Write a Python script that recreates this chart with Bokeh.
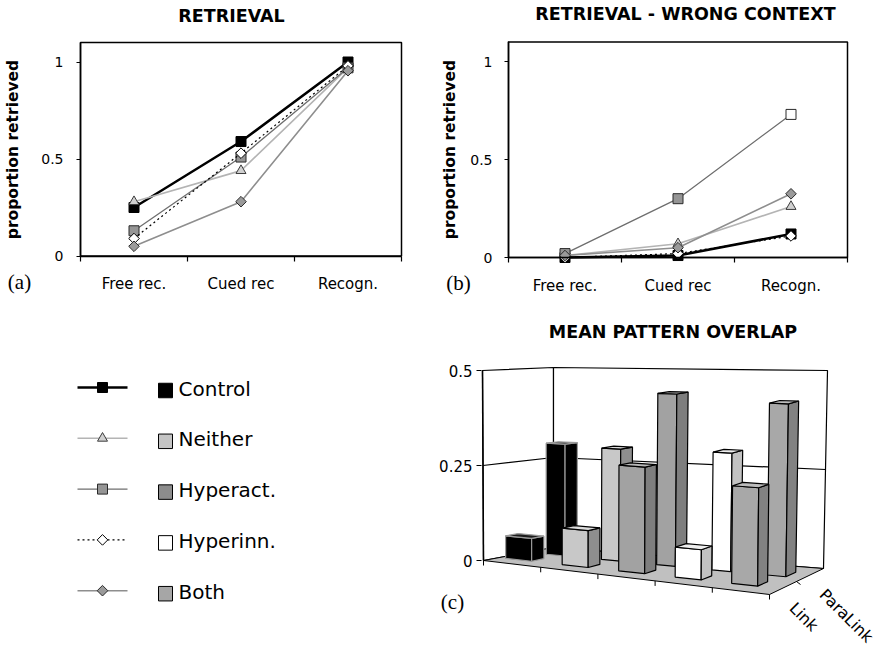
import math
from bokeh.plotting import figure
from bokeh.models import Range1d, FixedTicker, CustomJSTickFormatter, ColumnDataSource
from bokeh.layouts import row, column
from bokeh.embed import file_html
from bokeh.resources import INLINE
from bokeh.core.properties import value

# ---------------- data ----------------
categories = ["Free rec.", "Cued rec", "Recogn."]
series_names = ["Control", "Neither", "Hyperact.", "Hyperinn.", "Both"]

retrieval_control = [0.25, 0.59, 1.00]
retrieval_neither = [0.28, 0.44, 0.97]
retrieval_hyperact = [0.13, 0.51, 0.97]
retrieval_hyperinn = [0.09, 0.53, 0.98]
retrieval_both = [0.05, 0.28, 0.955]

wrong_control = [0.00, 0.01, 0.12]
wrong_neither = [0.01, 0.07, 0.26]
wrong_hyperact = [0.02, 0.30, 0.73]
wrong_hyperinn = [0.00, 0.02, 0.11]
wrong_both = [0.01, 0.05, 0.325]

overlap_depth_labels = ["Link", "ParaLink"]
overlap_link = [0.06, 0.095, 0.27, 0.075, 0.24]
overlap_paralink = [0.30, 0.295, 0.445, 0.30, 0.43]

line_y_ticks = [0, 0.5, 1]
line_y_max = 1.1
overlap_y_ticks = [0, 0.25, 0.5]

# ---------------- styles ----------------
SANS = "DejaVu Sans"
SERIF = "Liberation Serif"

STYLES = {
    "Control":   dict(color="#000000", width=2.5, dash="solid", marker="square",   size=10,  angle=0.0,       fill="#000000", edge="#000000", swatch="#000000"),
    "Neither":   dict(color="#b4b4b4", width=1.6, dash="solid", marker="triangle", size=10,  angle=0.0,       fill="#d0d0d0", edge="#3c3c3c", swatch="#c4c4c4"),
    "Hyperact.": dict(color="#6e6e6e", width=1.3, dash="solid", marker="square",   size=10,  angle=0.0,       fill="#959595", edge="#2a2a2a", swatch="#8c8c8c"),
    "Hyperinn.": dict(color="#000000", width=1.2, dash="2 3",   marker="square",   size=7.5, angle=math.pi/4, fill="#ffffff", edge="#000000", swatch="#ffffff"),
    "Both":      dict(color="#8e8e8e", width=1.6, dash="solid", marker="square",   size=7.5, angle=math.pi/4, fill="#9a9a9a", edge="#2a2a2a", swatch="#a6a6a6"),
}
# front, side, top, edge
BAR_COLORS = {
    "Control":   ("#000000", "#000000", "#1c1c1c", "#9a9a9a"),
    "Neither":   ("#c8c8c8", "#8e8e8e", "#dcdcdc", "#000000"),
    "Hyperact.": ("#a2a2a2", "#7e7e7e", "#b8b8b8", "#000000"),
    "Hyperinn.": ("#ffffff", "#c2c2c2", "#eeeeee", "#000000"),
    "Both":      ("#a8a8a8", "#828282", "#bcbcbc", "#000000"),
}
TITLE_SIZE = "17.5px"


def bare_figure(width, height, x_range, y_range, **kw):
    p = figure(width=width, height=height, x_range=x_range, y_range=y_range,
               output_backend="svg", toolbar_location=None,
               min_border=0, min_border_left=0, min_border_right=0,
               min_border_top=0, min_border_bottom=0, **kw)
    p.title.visible = False
    p.outline_line_color = None
    p.grid.visible = False
    return p


def line_panel(title, values, canvas_left, width, x0_px, x_scale, y0_px, y_scale,
               title_px, ylab_standoff, ytick_standoff, tag, tag_px, point_fills):
    height = 300
    # frame == whole canvas; data units: categories on x, proportion on y
    xr = Range1d(-x0_px / x_scale, (width - x0_px) / x_scale)
    yr = Range1d(-(height - y0_px) / y_scale, y0_px / y_scale)
    p = bare_figure(width, height, xr, yr)

    def to_data(px, py):
        return (px - canvas_left - x0_px) / x_scale, (y0_px - py) / y_scale

    ncat = len(categories)
    # plot-area box
    p.quad(left=[0], right=[ncat], bottom=[0], top=[line_y_max], fill_color=None,
           line_color="#000000", line_width=1.5)

    xa = p.xaxis[0]
    xa.fixed_location = 0
    xa.bounds = (0, ncat)
    xa.ticker = FixedTicker(ticks=[i + 0.5 for i in range(ncat)], minor_ticks=list(range(ncat + 1)))
    xa.formatter = CustomJSTickFormatter(args=dict(labels=categories),
                                         code="return labels[Math.round(tick - 0.5)];")
    xa.major_tick_out = 0
    xa.major_tick_in = 0
    xa.minor_tick_out = 5
    xa.minor_tick_in = 0
    xa.axis_line_width = 1.5
    xa.minor_tick_line_width = 1.2
    xa.major_label_text_font = SANS
    xa.major_label_text_font_size = "15px"
    xa.major_label_text_color = "#000000"
    xa.major_label_standoff = 14

    ya = p.yaxis[0]
    ya.fixed_location = 0
    ya.bounds = (0, line_y_max)
    ya.ticker = FixedTicker(ticks=line_y_ticks, minor_ticks=[])
    ya.formatter = CustomJSTickFormatter(code="return tick.toString();")
    ya.major_tick_out = 4
    ya.major_tick_in = 0
    ya.axis_line_width = 1.5
    ya.major_label_text_font = SANS
    ya.major_label_text_font_size = "14px"
    ya.major_label_text_color = "#000000"
    ya.major_label_standoff = ytick_standoff
    ya.axis_label = "proportion retrieved"
    ya.axis_label_text_font = SANS
    ya.axis_label_text_font_style = "bold"
    ya.axis_label_text_font_size = "15.5px"
    ya.axis_label_text_color = "#000000"
    ya.axis_label_standoff = ylab_standoff

    xs = [i + 0.5 for i in range(ncat)]
    for name, vals in zip(series_names, values):
        st = STYLES[name]
        fills = point_fills.get(name, [st["fill"]] * len(vals))
        p.line(xs, vals, line_color=st["color"], line_width=st["width"], line_dash=st["dash"])
        src = ColumnDataSource(dict(x=xs, y=vals, f=fills))
        p.scatter("x", "y", source=src, marker=st["marker"], size=st["size"], angle=st["angle"],
                  fill_color="f", line_color=st["edge"], line_width=1)

    tx, ty = to_data(*title_px)
    p.text([tx], [ty], text=[title], text_font=value(SANS), text_font_size=TITLE_SIZE,
           text_font_style="bold", text_align="center", text_baseline="middle", text_color="#000000")
    gx, gy = to_data(*tag_px)
    p.text([gx], [gy], text=[tag], text_font=value(SERIF), text_font_size="21px",
           text_align="center", text_baseline="middle", text_color="#000000")
    return p


pa = line_panel("RETRIEVAL",
                [retrieval_control, retrieval_neither, retrieval_hyperact, retrieval_hyperinn, retrieval_both],
                0, 440, 80, 107, 255.5, 194, (231, 15), 16, 13, "(a)", (19, 281), {})
pb = line_panel("RETRIEVAL - WRONG CONTEXT",
                [wrong_control, wrong_neither, wrong_hyperact, wrong_hyperinn, wrong_both],
                440, 441, 68, 113, 257, 196, (685, 13), 8, 12, "(b)", (458, 282),
                {"Hyperact.": [STYLES["Hyperact."]["fill"], STYLES["Hyperact."]["fill"], "#ffffff"]})

# ---------------- legend panel (canvas pixels as data units) ----------------
pl = bare_figure(428, 348, Range1d(0, 428), Range1d(648, 300),
                 x_axis_location=None, y_axis_location=None)
ROW0, ROWSTEP = 387, 50.8
for i, name in enumerate(series_names):
    st = STYLES[name]
    yy = ROW0 + i * ROWSTEP
    pl.line([77, 127], [yy, yy], line_color=st["color"], line_width=st["width"], line_dash=st["dash"])
    pl.scatter([102], [yy], marker=st["marker"], size=st["size"], angle=st["angle"],
               fill_color=st["fill"], line_color=st["edge"], line_width=1)
    pl.rect([165], [yy + 3], width=14, height=14.5, fill_color=st["swatch"], line_color="#000000", line_width=1)
    pl.text([178], [yy + 1], text=[name], text_font=value(SANS), text_font_size="20px",
            text_baseline="middle", text_align="left", text_color="#000000")

# ---------------- 3-D bar panel ----------------
# screen-pixel corners of the plotting cube (u: category, w: depth, t: height fraction)
CORNERS = {
    (0, 0, 0): (483, 560), (0, 0, 1): (482, 370),
    (0, 1, 0): (553, 547), (0, 1, 1): (553, 367),
    (1, 0, 0): (769, 594), (1, 0, 1): (771, 385),
    (1, 1, 0): (823, 568), (1, 1, 1): (827, 370),
}
ZMAX = 0.5
Y0_PX, PX_PER_UNIT = 560, 380.0
PC_LEFT, PC_TOP = 428, 300


def py_to_y(py):
    return (Y0_PX - py) / PX_PER_UNIT


def proj(u, w, z):
    t = z / ZMAX
    sx = sy = 0.0
    for (i, j, k), (cx, cy) in CORNERS.items():
        wt = (u if i else 1 - u) * (w if j else 1 - w) * (t if k else 1 - t)
        sx += wt * cx
        sy += wt * cy
    return sx, py_to_y(sy)


def poly(pts):
    xy = [proj(*p) for p in pts]
    return [a for a, _ in xy], [b for _, b in xy]


pc = bare_figure(453, 348, Range1d(PC_LEFT, 881), Range1d(py_to_y(648), py_to_y(PC_TOP)),
                 x_axis_location=None)
ya = pc.yaxis[0]
ya.fixed_location = 481
ya.bounds = (0, ZMAX)
ya.ticker = FixedTicker(ticks=overlap_y_ticks, minor_ticks=[])
ya.formatter = CustomJSTickFormatter(code="return tick.toString();")
ya.axis_line_color = None
ya.major_tick_out = 5
ya.major_tick_in = 0
ya.major_tick_line_width = 1.2
ya.major_label_text_font = SANS
ya.major_label_text_font_size = "15px"
ya.major_label_text_color = "#000000"
ya.major_label_standoff = 4

# walls
wx, wy = [], []
for pts in ([(0, 0, 0), (0, 1, 0), (0, 1, ZMAX), (0, 0, ZMAX)],
            [(0, 1, 0), (1, 1, 0), (1, 1, ZMAX), (0, 1, ZMAX)]):
    a, b = poly(pts)
    wx.append(a)
    wy.append(b)
pc.patches(wx, wy, fill_color="#ffffff", line_color="#000000", line_width=1.2)
# gridline at 0.25
gx, gy = poly([(0, 0, overlap_y_ticks[1]), (0, 1, overlap_y_ticks[1]), (1, 1, overlap_y_ticks[1])])
pc.line(gx, gy, line_color="#000000", line_width=1.2)
# floor
fx, fy = poly([(0, 0, 0), (1, 0, 0), (1, 1, 0), (0, 1, 0)])
pc.patch(fx, fy, fill_color="#c0c0c0", line_color="#000000", line_width=1)
# front-left vertical edge (value axis line)
ex, ey = poly([(0, 0, 0), (0, 0, ZMAX)])
pc.line(ex, ey, line_color="#000000", line_width=1.5)

# ticks on floor edges
n = len(series_names)
tx0, ty0, tx1, ty1 = [], [], [], []
for k in range(n + 1):
    x, y = proj(k / n, 0, 0)
    tx0.append(x); ty0.append(y); tx1.append(x); ty1.append(y - 5 / PX_PER_UNIT)
x, y = proj(1, 0.5, 0)
tx0.append(x); ty0.append(y); tx1.append(x + 4); ty1.append(y - 3 / PX_PER_UNIT)
pc.segment(tx0, ty0, tx1, ty1, line_color="#000000", line_width=1)

# bars: back row first, then front row
BAR_U = {"front": (0.12, 0.58), "back": (0.35, 0.69)}
BAR_W = {"front": (0.22, 0.40), "back": (0.62, 0.80)}
bxs, bys, bfill, bline = [], [], [], []
for rowkey, vals in (("back", overlap_paralink), ("front", overlap_link)):
    ua, ub = BAR_U[rowkey]
    w0, w1 = BAR_W[rowkey]
    for gi, (name, v) in enumerate(zip(series_names, vals)):
        u0, u1 = (gi + ua) / n, (gi + ub) / n
        front, side, top, edge = BAR_COLORS[name]
        faces = [
            ([(u0, w0, 0), (u1, w0, 0), (u1, w0, v), (u0, w0, v)], front),
            ([(u1, w0, 0), (u1, w1, 0), (u1, w1, v), (u1, w0, v)], side),
            ([(u0, w0, v), (u1, w0, v), (u1, w1, v), (u0, w1, v)], top),
        ]
        for pts, col in faces:
            a, b = poly(pts)
            bxs.append(a); bys.append(b); bfill.append(col); bline.append(edge)
pc.patches("xs", "ys", source=ColumnDataSource(dict(xs=bxs, ys=bys, f=bfill, l=bline)),
           fill_color="f", line_color="l", line_width=1.2)

# depth labels
LABEL_W = [0.2, 0.72]
LABEL_DX = [12, 14]
lx, ly = [], []
for w, dx in zip(LABEL_W, LABEL_DX):
    x, y = proj(1, w, 0)
    lx.append(x + dx)
    ly.append(y - 16 / PX_PER_UNIT)
pc.text(lx, ly, text=overlap_depth_labels, angle=-math.pi / 4, text_font=value(SANS),
        text_font_size="16px", text_align="left", text_baseline="middle", text_color="#000000")

pc.text([672.5], [py_to_y(331)], text=["MEAN PATTERN OVERLAP"], text_font=value(SANS),
        text_font_size=TITLE_SIZE, text_font_style="bold", text_align="center",
        text_baseline="middle", text_color="#000000")
pc.text([452], [py_to_y(601)], text=["(c)"], text_font=value(SERIF), text_font_size="21px",
        text_align="center", text_baseline="middle", text_color="#000000")

layout = column(row(pa, pb), row(pl, pc))
open("out.html", "w").write(file_html(layout, INLINE))
